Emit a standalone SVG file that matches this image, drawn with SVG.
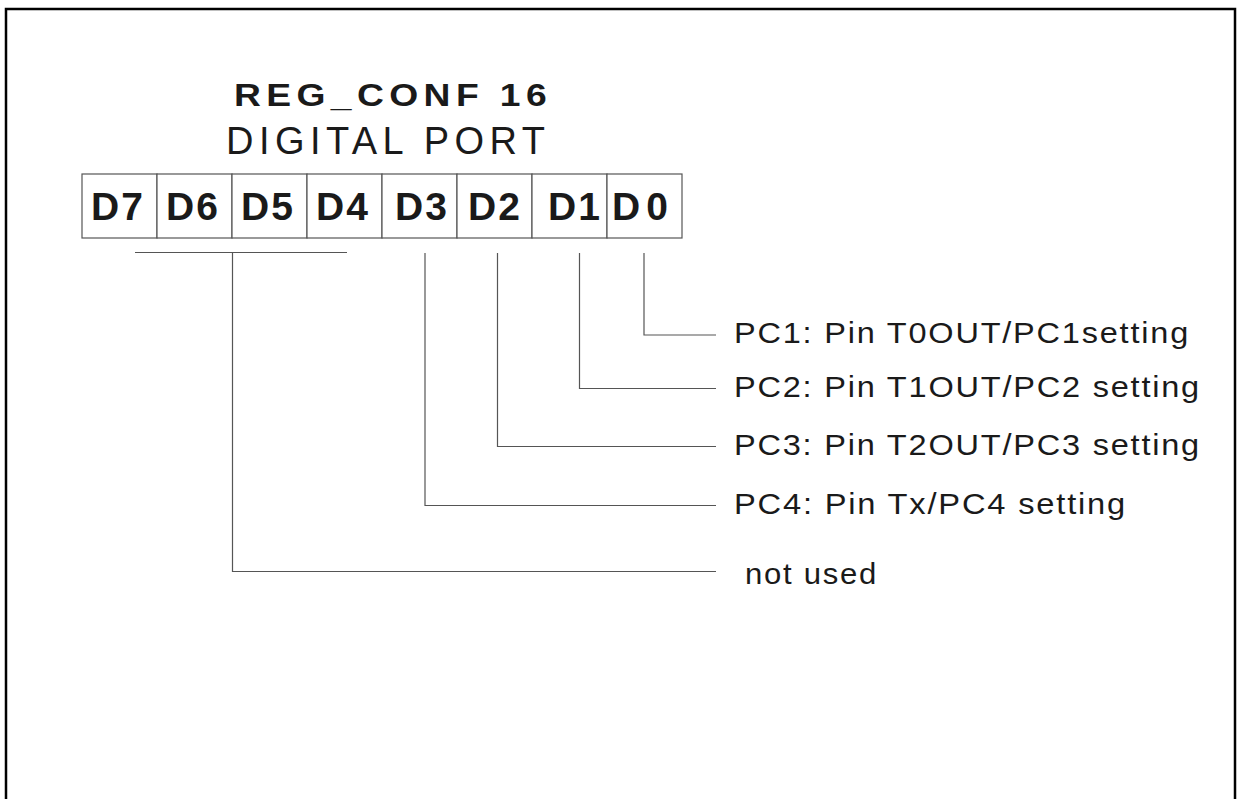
<svg xmlns="http://www.w3.org/2000/svg" width="1239" height="799" viewBox="0 0 1239 799">
<style>
.frame{fill:none;stroke:#000;stroke-width:2.5}
.cell{fill:#fff;stroke:#555;stroke-width:1.2}
.bit{font-family:"Liberation Sans",Arial,sans-serif;font-weight:bold;font-size:39px;fill:#1a1a1a;letter-spacing:2px}
.title{font-family:"Liberation Sans",Arial,sans-serif;font-weight:bold;font-size:31px;fill:#1a1a1a;letter-spacing:4.5px}
.sub{font-family:"Liberation Sans",Arial,sans-serif;font-size:38px;fill:#1a1a1a}
.lbl{font-family:"Liberation Sans",Arial,sans-serif;font-size:29px;fill:#1a1a1a;letter-spacing:1.6px}
.wire{fill:none;stroke:#555;stroke-width:1.2}
</style>
<rect class="frame" x="6" y="9" width="1229" height="820"/>
<g id="title">
<text class="title" x="234" y="106" textLength="318" lengthAdjust="spacingAndGlyphs">REG_CONF 16</text>
<text class="sub" x="226" y="154" textLength="319" lengthAdjust="spacing">DIGITAL PORT</text>
</g>
<g id="register">
<rect class="cell" x="82" y="174" width="75" height="64"/>
<rect class="cell" x="157" y="174" width="75" height="64"/>
<rect class="cell" x="232" y="174" width="75" height="64"/>
<rect class="cell" x="307" y="174" width="75" height="64"/>
<rect class="cell" x="382" y="174" width="75" height="64"/>
<rect class="cell" x="457" y="174" width="75" height="64"/>
<rect class="cell" x="532" y="174" width="75" height="64"/>
<rect class="cell" x="607" y="174" width="75" height="64"/>
<text class="bit" x="91" y="220">D7</text>
<text class="bit" x="166" y="220">D6</text>
<text class="bit" x="241" y="220">D5</text>
<text class="bit" x="316" y="220">D4</text>
<text class="bit" x="395" y="220">D3</text>
<text class="bit" x="468" y="220">D2</text>
<text class="bit" x="548" y="220">D1</text>
<text class="bit" x="612" y="220" textLength="58" lengthAdjust="spacing">D0</text>
</g>
<g id="connectors">
<path class="wire" d="M135 252.5H347"/>
<path class="wire" d="M232.5 252.5V571.5H716"/>
<path class="wire" d="M425 253V505.5H716"/>
<path class="wire" d="M497.5 253V446.5H716"/>
<path class="wire" d="M579.5 253V388.5H716"/>
<path class="wire" d="M644 253V335H716"/>
</g>
<g id="labels">
<text class="lbl" x="734" y="343" textLength="456" lengthAdjust="spacingAndGlyphs">PC1: Pin T0OUT/PC1setting</text>
<text class="lbl" x="734" y="397" textLength="467" lengthAdjust="spacingAndGlyphs">PC2: Pin T1OUT/PC2 setting</text>
<text class="lbl" x="734" y="455" textLength="467" lengthAdjust="spacingAndGlyphs">PC3: Pin T2OUT/PC3 setting</text>
<text class="lbl" x="734" y="514" textLength="393" lengthAdjust="spacingAndGlyphs">PC4: Pin Tx/PC4 setting</text>
<text class="lbl" x="745" y="584" textLength="133" lengthAdjust="spacingAndGlyphs">not used</text>
</g>
</svg>
